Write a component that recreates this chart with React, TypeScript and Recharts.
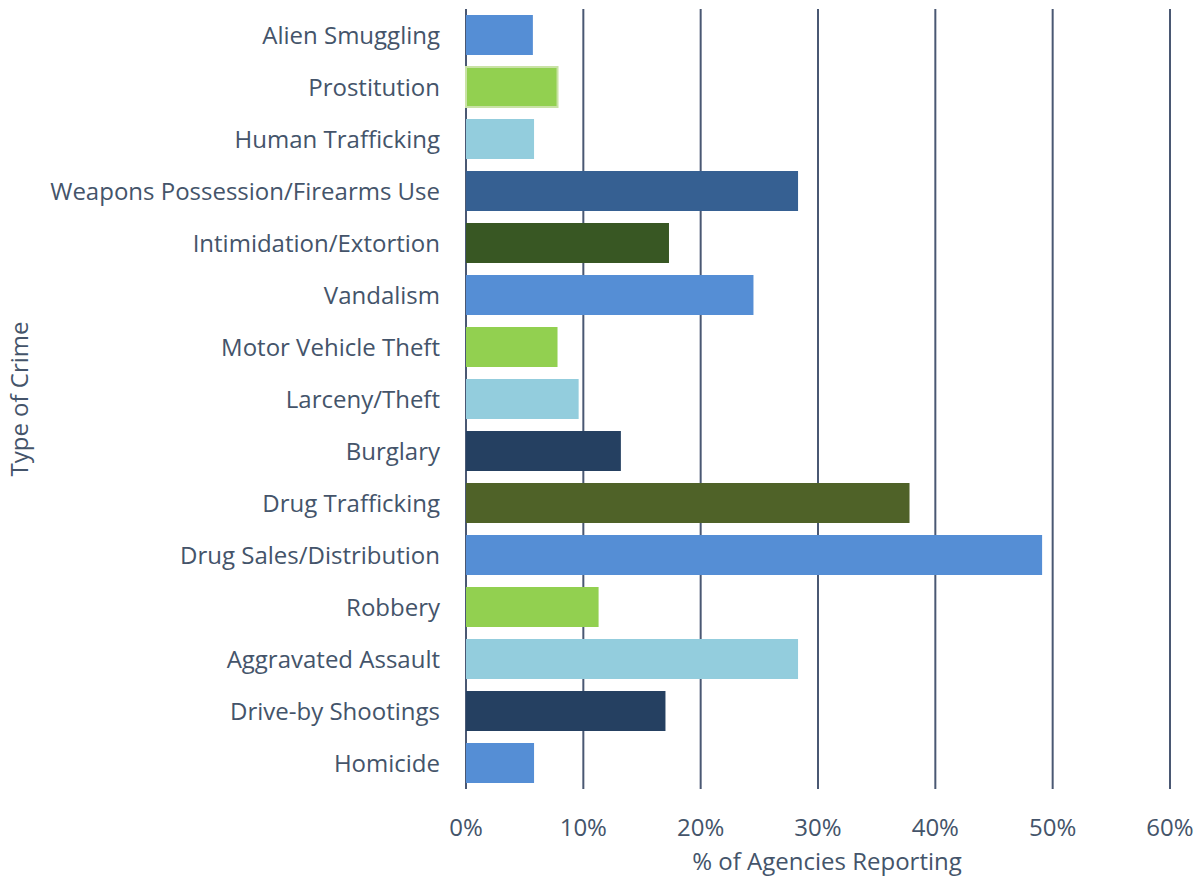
import { BarChart, Bar, XAxis, YAxis, CartesianGrid, Cell } from "recharts";

const crimes = [
  "Alien Smuggling",
  "Prostitution",
  "Human Trafficking",
  "Weapons Possession/Firearms Use",
  "Intimidation/Extortion",
  "Vandalism",
  "Motor Vehicle Theft",
  "Larceny/Theft",
  "Burglary",
  "Drug Trafficking",
  "Drug Sales/Distribution",
  "Robbery",
  "Aggravated Assault",
  "Drive-by Shootings",
  "Homicide",
];

const percentReporting = [5.7, 7.8, 5.8, 28.3, 17.3, 24.5, 7.8, 9.6, 13.2, 37.8, 49.1, 11.3, 28.3, 17.0, 5.8];

const xTicks = [0, 10, 20, 30, 40, 50, 60];

const barColors = [
  "#558ED5",
  "#92D050",
  "#93CDDD",
  "#366092",
  "#385723",
  "#558ED5",
  "#92D050",
  "#93CDDD",
  "#254061",
  "#4F6228",
  "#558ED5",
  "#92D050",
  "#93CDDD",
  "#254061",
  "#558ED5",
];

const TEXT = "#44546A";
const FONT = "'Open Sans', sans-serif";
const FS = 24;

const data = crimes.map((name, i) => ({ name, value: percentReporting[i] }));

// eslint-disable-next-line @typescript-eslint/no-explicit-any
function YTitle({ viewBox }: any) {
  const cy = viewBox.y + viewBox.height / 2;
  return (
    <text
      x={28}
      y={cy}
      transform={`rotate(-90, 28, ${cy})`}
      textAnchor="middle"
      fill={TEXT}
      fontSize={FS}
      fontFamily={FONT}
    >
      Type of Crime
    </text>
  );
}

// eslint-disable-next-line @typescript-eslint/no-explicit-any
function XTitle({ viewBox }: any) {
  return (
    <text
      x={viewBox.x + viewBox.width / 2 + 9}
      y={870}
      textAnchor="middle"
      fill={TEXT}
      fontSize={FS}
      fontFamily={FONT}
    >
      % of Agencies Reporting
    </text>
  );
}

export default function App() {
  return (
    <div style={{ position: "absolute", left: 0, top: 0, background: "#fff", width: 1203, height: 877 }}>
      <BarChart
        width={1203}
        height={877}
        data={data}
        layout="vertical"
        margin={{ top: 9, right: 33, bottom: 0, left: 0 }}
        barSize={40}
      >
        <CartesianGrid horizontal={false} stroke="#4A5873" strokeWidth={2} />
        <XAxis
          type="number"
          domain={[0, 60]}
          ticks={xTicks}
          tickFormatter={(v) => `${v}%`}
          axisLine={false}
          tickLine={false}
          tickSize={0}
          tickMargin={30}
          height={88}
          interval={0}
          tick={{ fill: TEXT, fontSize: FS, fontFamily: FONT }}
          label={<XTitle />}
        />
        <YAxis
          type="category"
          dataKey="name"
          width={466}
          axisLine={false}
          tickLine={false}
          tickSize={0}
          tickMargin={26}
          interval={0}
          tick={{ fill: TEXT, fontSize: FS, fontFamily: FONT }}
          label={<YTitle />}
        />
        <Bar dataKey="value" isAnimationActive={false}>
          {data.map((d, i) => (
            <Cell
              key={d.name}
              fill={barColors[i]}
              stroke={d.name === "Prostitution" ? "#C9E2A6" : "none"}
              strokeWidth={2}
            />
          ))}
        </Bar>
      </BarChart>
    </div>
  );
}
